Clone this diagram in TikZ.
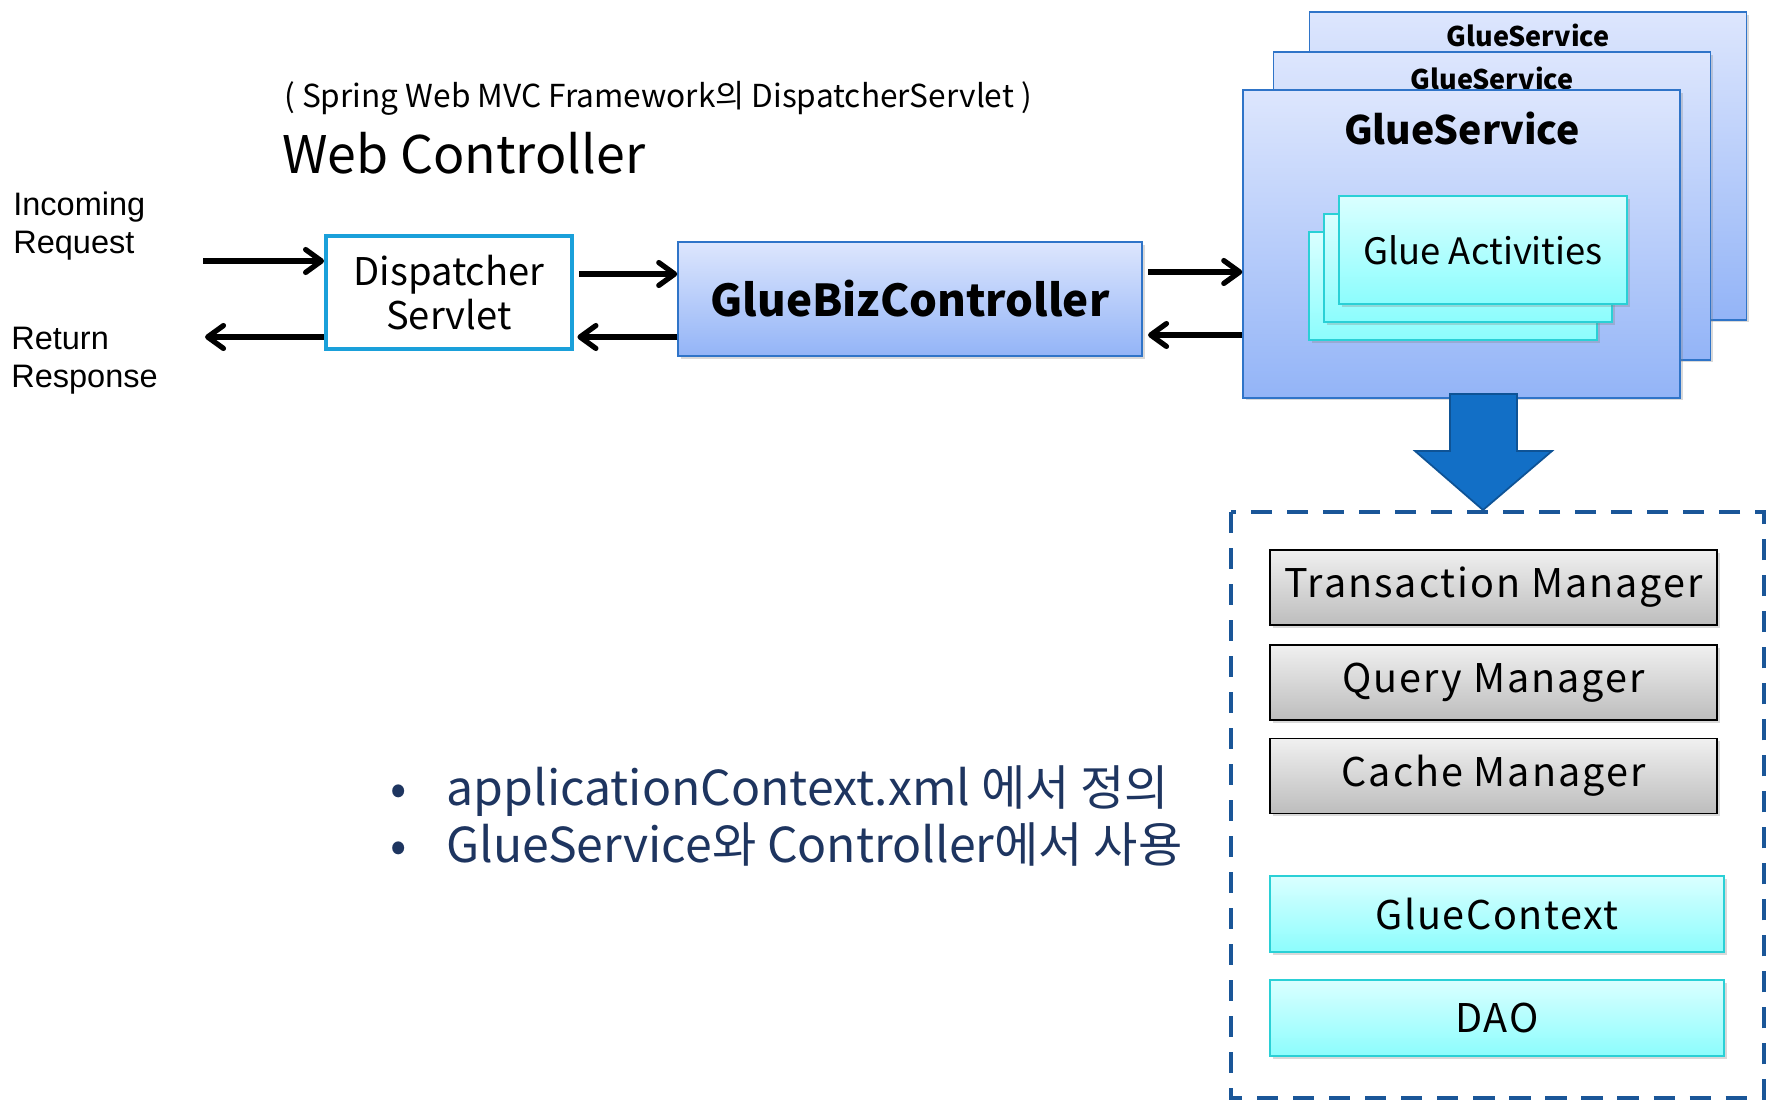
\documentclass[tikz,border=0pt]{standalone}
\usepackage{fontspec}
\setmainfont{Noto Sans CJK KR}
\newfontfamily\arialfont{Liberation Sans}
\usepackage{xcolor}
\usepackage{tikz}
\usetikzlibrary{arrows.meta,shadows}

\definecolor{blueTop}{HTML}{DDE6FD}
\definecolor{blueBot}{HTML}{93B4F7}
\definecolor{blueRim}{HTML}{2F74C8}
\definecolor{cyanTop}{HTML}{DAFFFF}
\definecolor{cyanBot}{HTML}{8CFDFD}
\definecolor{cyanRim}{HTML}{2AD0D6}
\definecolor{grayTop}{HTML}{F0F0F0}
\definecolor{grayBot}{HTML}{BDBDBD}
\definecolor{dispRim}{HTML}{1AA0DA}
\definecolor{arrowFill}{HTML}{126FC6}
\definecolor{arrowRim}{HTML}{0E5396}
\definecolor{dashBlue}{HTML}{1A5698}
\definecolor{noteNavy}{HTML}{1E3560}

\tikzset{
	flow/.style={line width=3.3pt,-{Straight Barb[length=9pt,width=13pt,line width=3pt,round]}},
	boxshadow/.style={drop shadow={opacity=0.3,shadow xshift=1.5pt,shadow yshift=-1.5pt}},
	bluebox/.style={draw=blueRim,line width=0.9pt,top color=blueTop,bottom color=blueBot,boxshadow},
	cyanbox/.style={draw=cyanRim,line width=0.9pt,top color=cyanTop,bottom color=cyanBot,boxshadow},
	graybox/.style={draw=black,line width=1pt,top color=grayTop,bottom color=grayBot,boxshadow,
		minimum width=8.94cm,minimum height=1.5cm,font=\fontsize{22.5}{26}\selectfont},
	layerbox/.style={cyanbox,minimum width=9.08cm,minimum height=1.52cm,font=\fontsize{22.5}{26}\selectfont},
	actbox/.style={cyanbox,minimum width=5.76cm,minimum height=2.16cm},
	svcbox/.style={bluebox,minimum width=8.74cm,minimum height=6.15cm},
	plain/.style={inner sep=0pt}
}

\begin{document}
\begin{tikzpicture}[x=0.02cm,y=-0.02cm]
		\useasboundingbox (0,0) rectangle (1767,1101);

		\node[plain,anchor=west,font=\fontsize{18}{22}\selectfont] (subtitle) at (284,98) {( Spring Web MVC Framework의 DispatcherServlet )};
		\node[plain,anchor=west,font=\fontsize{29.5}{34}\selectfont] (webctl) at (282,153) {Web Controller};

		\node[plain,anchor=north west,align=left,font=\arialfont\fontsize{18.5}{21.5}\selectfont] (incoming) at (13,192) {Incoming\\Request};
		\node[plain,anchor=north west,align=left,font=\arialfont\fontsize{18.5}{21.5}\selectfont] (return) at (11,327) {Return\\Response};

		\node[draw=dispRim,line width=2.2pt,fill=white,minimum width=4.92cm,minimum height=2.26cm,align=center,
			font=\fontsize{21.7}{25}\selectfont] (ds) at (449,292.5) {Dispatcher\\Servlet};
		\node[bluebox,minimum width=9.28cm,minimum height=2.28cm,font=\bfseries\fontsize{25}{30}\selectfont] (gbc) at (910,299) {GlueBizController};

		\node[svcbox] (gs3) at (1528,166) {};
		\node[plain,font=\bfseries\fontsize{15.4}{18}\selectfont] (gs3t) at (1528,35) {GlueService};
		\node[svcbox] (gs2) at (1492,206) {};
		\node[plain,font=\bfseries\fontsize{15.4}{18}\selectfont] (gs2t) at (1492,78) {GlueService};
		\node[svcbox] (gs1) at (1461.5,244) {};
		\node[plain,font=\bfseries\fontsize{22.3}{26}\selectfont] (gs1t) at (1462,128) {GlueService};

		\node[actbox] (ga3) at (1453,286) {};
		\node[actbox] (ga2) at (1468,268) {};
		\node[actbox,font=\fontsize{20.7}{24}\selectfont] (ga1) at (1483,250) {Glue Activities};

		\coordinate (reqIn) at (203,261);
		\coordinate (respOut) at (205,337);
		\draw[flow] (reqIn) -- (reqIn -| ds.west);
		\draw[flow] (ds.west |- respOut) -- (respOut);
		\draw[flow,shorten <=3pt] (ds.east |- 0,274) -- (gbc.west |- 0,274);
		\draw[flow] (gbc.west |- 0,337) -- ([xshift=2pt]ds.east |- 0,337);
		\draw[flow,shorten <=3pt] (gbc.east |- 0,272) -- (gs1.west |- 0,272);
		\draw[flow,shorten >=3pt] (gs1.west |- 0,335) -- (gbc.east |- 0,335);

		\draw[fill=arrowFill,draw=arrowRim,line width=1pt] (1450,394) -- (1517,394) -- (1517,451) -- (1552,451)
			-- (1483,510) -- (1415,451) -- (1450,451) -- cycle;

		\draw[dashBlue,line width=2.3pt,dash pattern=on 12pt off 8.5pt] (1231,512) rectangle (1764,1098);

		\node[graybox] (txm) at (1493.5,587.5) {\addfontfeatures{LetterSpace=5}Transaction Manager};
		\node[graybox] (qm) at (1493.5,682.5) {\addfontfeatures{LetterSpace=5}Query Manager};
		\node[graybox] (cm) at (1493.5,776) {\addfontfeatures{LetterSpace=5}Cache Manager};
		\node[layerbox] (ctx) at (1497,914) {\addfontfeatures{LetterSpace=4}GlueContext};
		\node[layerbox] (dao) at (1497,1018) {\addfontfeatures{LetterSpace=4}DAO};

		\node[plain,anchor=west,text=noteNavy,font=\fontsize{27.4}{32.3}\selectfont] (notes) at (390,823) {%
			\begin{tabular}{@{}l@{}l@{}}
			\makebox[32pt][l]{•} & applicationContext.xml 에서 정의\\
			\makebox[32pt][l]{•} & GlueService와 Controller에서 사용
			\end{tabular}};
\end{tikzpicture}
\end{document}
